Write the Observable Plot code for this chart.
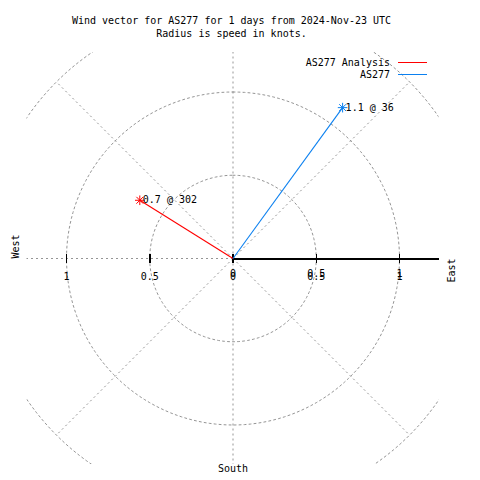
<!DOCTYPE html>
<html>
<head>
<meta charset="utf-8">
<script src="https://cdn.jsdelivr.net/npm/d3@7"></script>
<script src="https://cdn.jsdelivr.net/npm/@observablehq/plot@0.6"></script>
<style>
  body { margin: 0; background: #fff; }
  #wrap { position: relative; width: 480px; height: 480px; font-family: "DejaVu Sans Mono", monospace; font-size: 10px; color: #000; }
  #title { position: absolute; left: 0; top: 14px; width: 463px; text-align: center; line-height: 13px; white-space: pre; }
  #chart { position: absolute; left: 0; top: 40px; }
  .lg-text { position: absolute; right: 90px; line-height: 12px; white-space: pre; }
  .lg-line { position: absolute; left: 398px; width: 29px; height: 1px; }
</style>
</head>
<body>
<div id="wrap">
  <div id="title"></div>
  <div id="chart"></div>
</div>
<script>
// ---- data ----
const titleLines = ["Wind vector for AS277 for 1 days from 2024-Nov-23 UTC", "Radius is speed in knots."];
const series = ["AS277 Analysis", "AS277"];
const speeds = [0.66, 1.12];          // knots
const directions = [302, 36];         // degrees, clockwise from north
const seriesColors = ["#ff0000", "#0b80f0"];
const gridRadii = [0.5, 1, 1.5];
const gridAngles = [0, 45, 90, 135, 180, 225, 270, 315];
const rightTicks = [0, 0.5, 1];
const rightTickLabels = ["0", "0.5", "1"];
const leftTicks = [-1, -0.5];
const leftTickLabels = ["1", "0.5"];
const compassLabels = ["West", "East", "South"];

// ---- layout ----
const k = 166.5;              // px per knot
const half = 206 / k;         // half-extent of frame in data units
const rad = d => d * Math.PI / 180;

document.getElementById("title").textContent = titleLines.join("\n");

const vectors = series.map((s, i) => ({
  series: s,
  speed: speeds[i],
  dir: directions[i],
  x: speeds[i] * Math.sin(rad(directions[i])),
  y: speeds[i] * Math.cos(rad(directions[i])),
  label: `${speeds[i].toFixed(1)} @ ${directions[i]}`
}));

const circlePts = gridRadii.flatMap(r => d3.range(0, 361, 2).map(a => ({r, x: r * Math.sin(rad(a)), y: r * Math.cos(rad(a))})));
const spokes = gridAngles.map(a => ({x: 1.5 * Math.sin(rad(a)), y: 1.5 * Math.cos(rad(a))}));
const tickLen = 4.5 / k;
const allTicks = leftTicks.concat(rightTicks);

const gridStyle = {stroke: "#959595", strokeWidth: 1, strokeDasharray: "2,3", clip: true};

const chart = Plot.plot({
  width: 480,
  height: 440,
  marginTop: 12,
  marginBottom: 16,
  marginLeft: 26.5,
  marginRight: 41.5,
  style: {fontFamily: "DejaVu Sans Mono", fontSize: "10px", background: "#fff"},
  x: {domain: [-half, half], axis: null},
  y: {domain: [-half, half], axis: null},
  color: {domain: series, range: seriesColors},
  marks: [
    Plot.line(circlePts, {x: "x", y: "y", z: "r", ...gridStyle}),
    Plot.link(spokes, {x1: 0, y1: 0, x2: "x", y2: "y", ...gridStyle}),
    Plot.ruleY([0], {x1: 0, x2: half, stroke: "#000", strokeWidth: 2, shapeRendering: "crispEdges"}),
    Plot.link(allTicks, {x1: d => d, x2: d => d, y1: -tickLen, y2: tickLen, stroke: "#000", strokeWidth: 1.5, shapeRendering: "crispEdges"}),
    Plot.text(leftTicks, {x: d => d, y: 0, dy: 18, text: (d, i) => leftTickLabels[i]}),
    Plot.text(rightTicks, {x: d => d, y: 0, dy: 18, text: (d, i) => rightTickLabels[i]}),
    Plot.text(rightTicks, {x: d => d, y: 0, dy: 15, text: (d, i) => rightTickLabels[i]}),
    Plot.link(vectors, {x1: 0, y1: 0, x2: "x", y2: "y", stroke: "series", strokeWidth: 1.1}),
    Plot.dot(vectors, {x: "x", y: "y", symbol: "plus", r: 3.2, stroke: "series", strokeWidth: 1}),
    Plot.dot(vectors, {x: "x", y: "y", symbol: "times", r: 3.2, stroke: "series", strokeWidth: 1}),
    Plot.text(vectors, {x: "x", y: "y", text: "label", textAnchor: "start", dx: 3, fill: "#000"}),
    Plot.text([compassLabels[0]], {frameAnchor: "left", dx: -11.5, rotate: -90}),
    Plot.text([compassLabels[1]], {frameAnchor: "right", dx: 12.5, rotate: -90}),
    Plot.text([compassLabels[2]], {frameAnchor: "bottom", dy: 7.5})
  ]
});
document.getElementById("chart").appendChild(chart);

// legend (inside plot area, top right)
const wrap = document.getElementById("wrap");
series.forEach((s, i) => {
  const t = document.createElement("div");
  t.className = "lg-text";
  t.style.top = (57 + 12 * i) + "px";
  t.textContent = s;
  wrap.appendChild(t);
  const l = document.createElement("div");
  l.className = "lg-line";
  l.style.top = (62 + 12 * i) + "px";
  l.style.backgroundColor = seriesColors[i];
  wrap.appendChild(l);
});
</script>
</body>
</html>
